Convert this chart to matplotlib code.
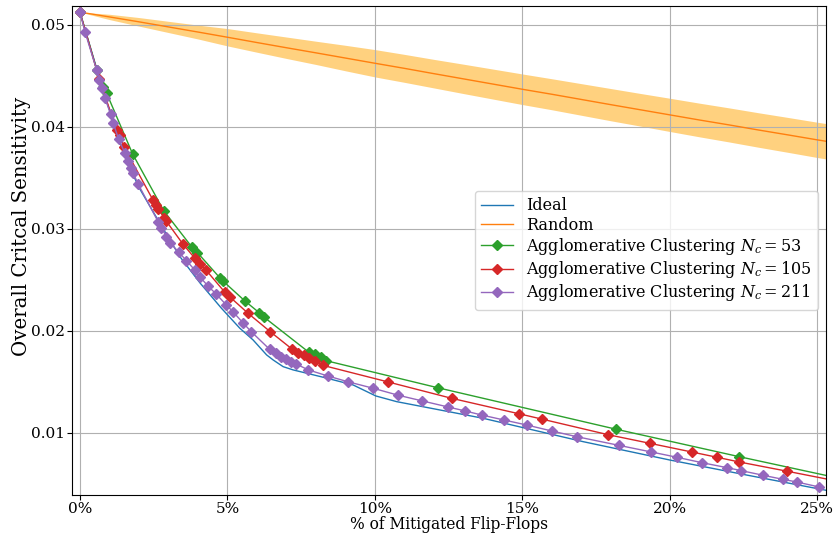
import matplotlib
matplotlib.use("Agg")
import matplotlib.pyplot as plt
import numpy as np

plt.rcParams['font.family'] = ['DejaVu Serif']
plt.rcParams['mathtext.fontset'] = 'dejavuserif'
plt.rcParams['font.size'] = 11.5

# ---- data (x in % of mitigated flip-flops) ----
ideal_x = [0, 0.2, 0.58, 0.85, 1.05, 1.32, 1.59, 2.03, 2.71, 3.39, 4.07, 4.80, 5.42, 5.87,
           6.33, 6.55, 6.89, 7.23, 8.25, 9.26, 10.03, 10.74, 13.67, 15.37, 17.06, 20.0,
           22.6, 25.25, 26.0]
ideal_y = [0.05125, 0.0493, 0.0456, 0.0429, 0.04127, 0.03882, 0.03657, 0.03392, 0.03056,
           0.02728, 0.02471, 0.02222, 0.02027, 0.01912, 0.01765, 0.01716, 0.01650, 0.01618,
           0.01546, 0.01471, 0.01363, 0.01307, 0.01144, 0.01029, 0.00915, 0.00735, 0.00588,
           0.00441, 0.00400]

rand_x = list(range(0, 26)) + [25.5]
rand_y = [0.05125, 0.05078, 0.05030, 0.04980, 0.04930, 0.04879, 0.04827, 0.04776, 0.04726,
          0.04675, 0.04624, 0.04574, 0.04522, 0.04471, 0.04420, 0.04369, 0.04320, 0.04269,
          0.04218, 0.04168, 0.04118, 0.04068, 0.04020, 0.03970, 0.03922, 0.03873, 0.03850]
rand_sd = [0.0, 0.00026, 0.00042, 0.00055, 0.00068, 0.00085, 0.00095, 0.00105, 0.00114,
           0.00125, 0.00134, 0.00137, 0.00140, 0.00144, 0.00147, 0.00150, 0.00152, 0.00155,
           0.00158, 0.00160, 0.00163, 0.00165, 0.00167, 0.00169, 0.00171, 0.00173, 0.00174]

ac53_x = [0, 0.57, 0.77, 0.905, 1.786, 2.847, 3.786, 3.983, 4.746, 4.837, 5.593, 6.078,
          6.247, 7.763, 7.966, 8.159, 8.339, 12.125, 18.19, 22.35, 26.0]
ac53_y = [0.05125, 0.04559, 0.04389, 0.04330, 0.03735, 0.03176, 0.02826, 0.02768, 0.02520,
          0.02493, 0.02294, 0.02179, 0.02134, 0.01791, 0.01770, 0.01740, 0.01709, 0.01444,
          0.01036, 0.00768, 0.00540]

ac105_x = [0, 0.654, 1.244, 1.356, 1.49, 2.485, 2.586, 2.654, 2.858, 2.915, 3.502, 3.885,
           4.068, 4.271, 4.915, 5.085, 5.705, 6.451, 7.197, 7.400, 7.583, 7.770, 7.966,
           8.247, 10.45, 12.60, 14.89, 15.65, 17.91, 19.32, 20.74, 21.60, 22.35, 23.98, 26.0]
ac105_y = [0.05125, 0.04471, 0.03971, 0.03922, 0.03807, 0.03279, 0.03235, 0.03196, 0.03108,
           0.03081, 0.02848, 0.02716, 0.02657, 0.02598, 0.02379, 0.02333, 0.02172, 0.01993,
           0.01821, 0.01787, 0.01760, 0.01733, 0.01708, 0.01662, 0.01500, 0.01340, 0.01188,
           0.01137, 0.00983, 0.00899, 0.00814, 0.00762, 0.00716, 0.00625, 0.00510]

ac211_x = [0, 0.17, 0.565, 0.653, 0.754, 0.846, 1.039, 1.127, 1.309, 1.522, 1.614, 1.715,
           1.803, 1.972, 2.649, 2.764, 2.933, 3.068, 3.349, 3.610, 3.890, 4.060, 4.340,
           4.625, 4.963, 5.186, 5.524, 5.808, 6.428, 6.631, 6.823, 6.993, 7.162, 7.331,
           7.747, 8.400, 9.076, 9.946, 10.79, 11.61, 12.48, 13.06, 13.62, 14.38, 15.15,
           15.99, 16.84, 18.27, 19.37, 20.24, 21.09, 21.94, 22.42, 23.17, 23.83, 24.30, 25.06]
ac211_y = [0.05125, 0.04934, 0.04559, 0.04461, 0.04385, 0.04287, 0.04124, 0.04042, 0.03882,
           0.03745, 0.03667, 0.03598, 0.03549, 0.03441, 0.03072, 0.03010, 0.02925, 0.02860,
           0.02772, 0.02690, 0.02598, 0.02532, 0.02441, 0.02360, 0.02255, 0.02189, 0.02081,
           0.01993, 0.01821, 0.01781, 0.01748, 0.01723, 0.01699, 0.01676, 0.01618, 0.01559,
           0.01503, 0.01438, 0.01370, 0.01314, 0.01255, 0.01216, 0.01176, 0.01127, 0.01078,
           0.01020, 0.00964, 0.00879, 0.00814, 0.00762, 0.00709, 0.00660, 0.00631, 0.00585,
           0.00546, 0.00520, 0.00471]

xticks = [0, 5, 10, 15, 20, 25]
xticklabels = ['0%', '5%', '10%', '15%', '20%', '25%']
yticks = [0.01, 0.02, 0.03, 0.04, 0.05]

# ---- plot ----
fig = plt.figure(figsize=(8.35, 5.37), dpi=100)
ax = fig.add_axes([0.0862, 0.0782, 0.9028, 0.9108])

ax.plot(ideal_x, ideal_y, color='tab:blue', lw=1.0, label='Ideal')
ry = np.array(rand_y)
rs = np.array(rand_sd)
ax.fill_between(rand_x, ry - rs, ry + rs, color='orange', alpha=0.5, lw=0)
ax.plot(rand_x, rand_y, color='tab:orange', lw=1.0, label='Random')
ax.plot(ac53_x, ac53_y, color='tab:green', lw=1.0, marker='D', ms=5,
        label='Agglomerative Clustering $N_c = 53$')
ax.plot(ac105_x, ac105_y, color='tab:red', lw=1.0, marker='D', ms=5,
        label='Agglomerative Clustering $N_c = 105$')
ax.plot(ac211_x, ac211_y, color='tab:purple', lw=1.0, marker='D', ms=5,
        label='Agglomerative Clustering $N_c = 211$')

ax.set_xlim(-0.27, 25.29)
ax.set_ylim(0.00392, 0.05186)
ax.set_xticks(xticks)
ax.set_xticklabels(xticklabels)
ax.set_yticks(yticks)
ax.tick_params(axis='y', pad=1.5, labelsize=11)
ax.tick_params(axis='x', pad=1.2, labelsize=11)
ax.grid(True)
ax.set_xlabel('% of Mitigated Flip-Flops', fontsize=11.2, labelpad=0)
ax.set_ylabel('Overall Critcal Sensitivity', fontsize=14.2)
ax.yaxis.set_label_coords(-0.0544, 0.55)
ax.legend(loc='center right', fontsize=11.5, labelspacing=0.14)

fig.savefig('out.png', dpi=100)
